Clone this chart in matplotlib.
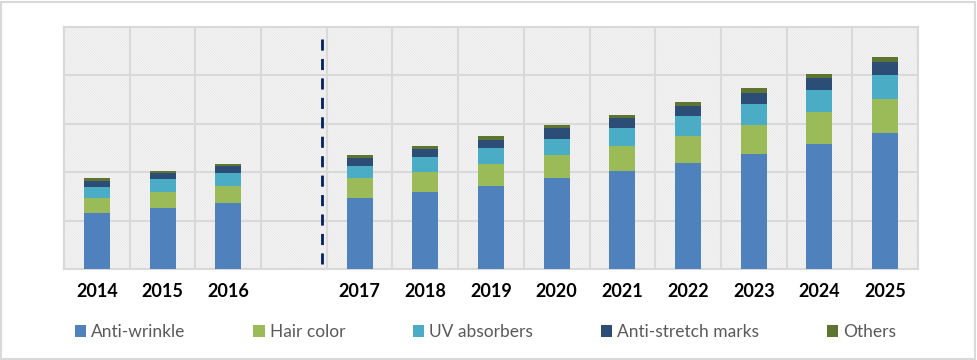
import matplotlib
matplotlib.use("Agg")
import matplotlib.pyplot as plt
from matplotlib.patches import Patch, Rectangle
import numpy as np

# ---- data (gridline step = 10 units) ----
years = ["2014", "2015", "2016", "", "2017", "2018", "2019", "2020",
         "2021", "2022", "2023", "2024", "2025"]
anti_wrinkle = [11.6, 12.7, 13.7, 0, 14.7, 16.0, 17.2, 18.7, 20.3, 22.0, 23.8, 25.9, 28.2]
hair_color = [3.1, 3.3, 3.5, 0, 4.0, 4.1, 4.55, 4.95, 5.2, 5.5, 6.0, 6.6, 7.0]
uv_absorbers = [2.3, 2.5, 2.7, 0, 2.6, 3.1, 3.3, 3.3, 3.7, 4.2, 4.3, 4.5, 4.9]
anti_stretch = [1.2, 1.3, 1.45, 0, 1.7, 1.65, 1.65, 2.1, 2.05, 2.0, 2.3, 2.5, 2.7]
others = [0.6, 0.55, 0.4, 0, 0.6, 0.6, 0.8, 0.6, 0.65, 0.8, 1.0, 0.85, 1.0]

series = [("Anti-wrinkle", anti_wrinkle, "#4f81bd"),
          ("Hair color", hair_color, "#9bbb59"),
          ("UV absorbers", uv_absorbers, "#4bacc6"),
          ("Anti-stretch marks", anti_stretch, "#2c4d75"),
          ("Others", others, "#5d7530")]

FONT = "Lato"
W, H = 977, 360

plt.rcParams["hatch.linewidth"] = 0.35

fig = plt.figure(figsize=(W / 100, H / 100), dpi=100)
ax = fig.add_axes([64 / W, (H - 269) / H, (918 - 64) / W, (269 - 27) / H])

x = np.arange(len(years))

# hatched plot area background
bg = Rectangle((0, 0), 1, 1, transform=ax.transAxes, facecolor="white",
               edgecolor="#d9d9d9", linewidth=0, hatch="\\" * 20, zorder=0)
ax.add_patch(bg)

bottom = np.zeros(len(years))
for name, vals, col in series:
    vals = np.array(vals)
    ax.bar(x, vals, width=0.395, bottom=bottom, color=col, zorder=3, linewidth=0)
    bottom += vals

ax.set_xlim(-0.5, len(years) - 0.5)
ax.set_ylim(0, 50)
ax.set_yticks(np.arange(0, 51, 10))
ax.set_xticks(np.arange(-0.5, len(years), 1), minor=True)
ax.set_xticks(x)
ax.set_xticklabels(years, fontfamily=FONT, fontweight="bold", fontsize=13, color="black")
ax.tick_params(axis="x", which="both", length=0, pad=10)
ax.tick_params(axis="y", length=0, labelleft=False)
ax.grid(axis="y", color="#d9d9d9", linewidth=1.5, zorder=1)
ax.grid(axis="x", which="minor", color="#d9d9d9", linewidth=1.5, zorder=1)
ax.set_axisbelow(True)
for sp in ax.spines.values():
    sp.set_color("#d9d9d9")
    sp.set_linewidth(1.5)

# forecast separator
ax.plot([3.43, 3.43], [1, 49], color="#002060", linewidth=2,
        linestyle=(0, (4, 3)), zorder=4)

handles = [Patch(facecolor=c, edgecolor="none") for _, _, c in series]
labels = [n for n, _, _ in series]
fig.legend(handles, labels, loc="center left", bbox_to_anchor=(75 / W, 1 - 332 / H),
           ncol=5, frameon=False, borderpad=0, borderaxespad=0,
           handlelength=0.64, handleheight=0.64, handletextpad=0.3,
           columnspacing=3.9, prop={"family": FONT, "size": 12.5},
           labelcolor="#595959")

# outer chart border
fig.patches.append(Rectangle((1 / W, 1 / H), 1 - 3 / W, 1 - 3 / H,
                             transform=fig.transFigure, fill=False,
                             edgecolor="#d9d9d9", linewidth=1.5))

fig.savefig("out.png", dpi=100)
